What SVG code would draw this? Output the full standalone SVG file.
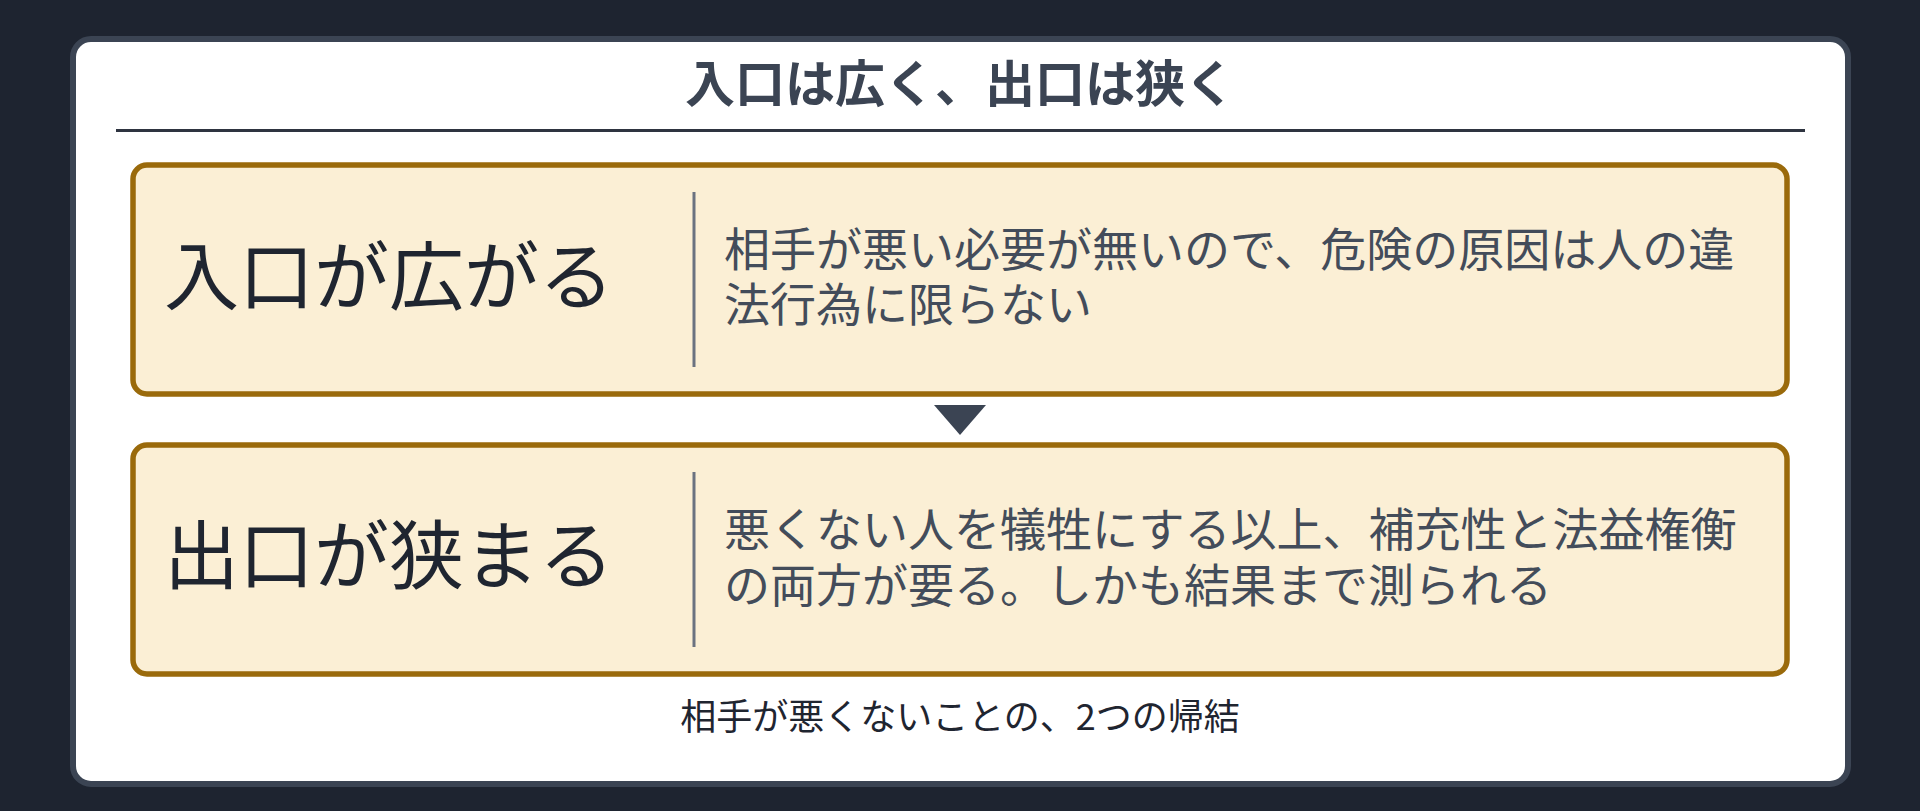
<svg xmlns="http://www.w3.org/2000/svg" width="1920" height="811" viewBox="0 0 1920 811">
<style>
.t{font-family:"Noto Sans CJK JP","Noto Sans",sans-serif}
.title{font-size:50px;font-weight:700;fill:#3b4453}
.head{font-size:75px;fill:#1f2530}
.body{font-size:46px;fill:#434c5a}
.foot{font-size:36px;fill:#1f2530}
.box{fill:#fbefd5;stroke:#9a6a0b;stroke-width:5.5}
.div{stroke:#6b7280;stroke-width:3}
</style>
<rect x="0" y="0" width="1920" height="811" fill="#1e2430"/>
<rect x="73" y="39" width="1775" height="745" rx="18" fill="#ffffff" stroke="#3b4453" stroke-width="6"/>
<g id="title">
<text class="t title" x="960" y="102" text-anchor="middle">入口は広く、出口は狭く</text>
<line x1="116" y1="130.5" x2="1805" y2="130.5" stroke="#2e3440" stroke-width="3"/>
</g>
<g id="node1">
<rect class="box" x="133" y="165" width="1654" height="229" rx="14"/>
<text class="t head" x="164" y="304">入口が広がる</text>
<line class="div" x1="694" y1="192" x2="694" y2="367"/>
<text class="t body" x="724" y="266">相手が悪い必要が無いので、危険の原因は人の違<tspan x="724" y="321">法行為に限らない</tspan></text>
</g>
<g id="node2">
<rect class="box" x="133" y="445" width="1654" height="229" rx="14"/>
<text class="t head" x="164" y="583">出口が狭まる</text>
<line class="div" x1="694" y1="472" x2="694" y2="647"/>
<text class="t body" x="724" y="546">悪くない人を犠牲にする以上、補充性と法益権衡<tspan x="724" y="602">の両方が要る。しかも結果まで測られる</tspan></text>
</g>
<g id="connectors">
<polygon points="934,405 986,405 960,435" fill="#3b4453"/>
</g>
<g id="caption">
<text class="t foot" x="960" y="730" text-anchor="middle">相手が悪くないことの、2つの帰結</text>
</g>
</svg>
